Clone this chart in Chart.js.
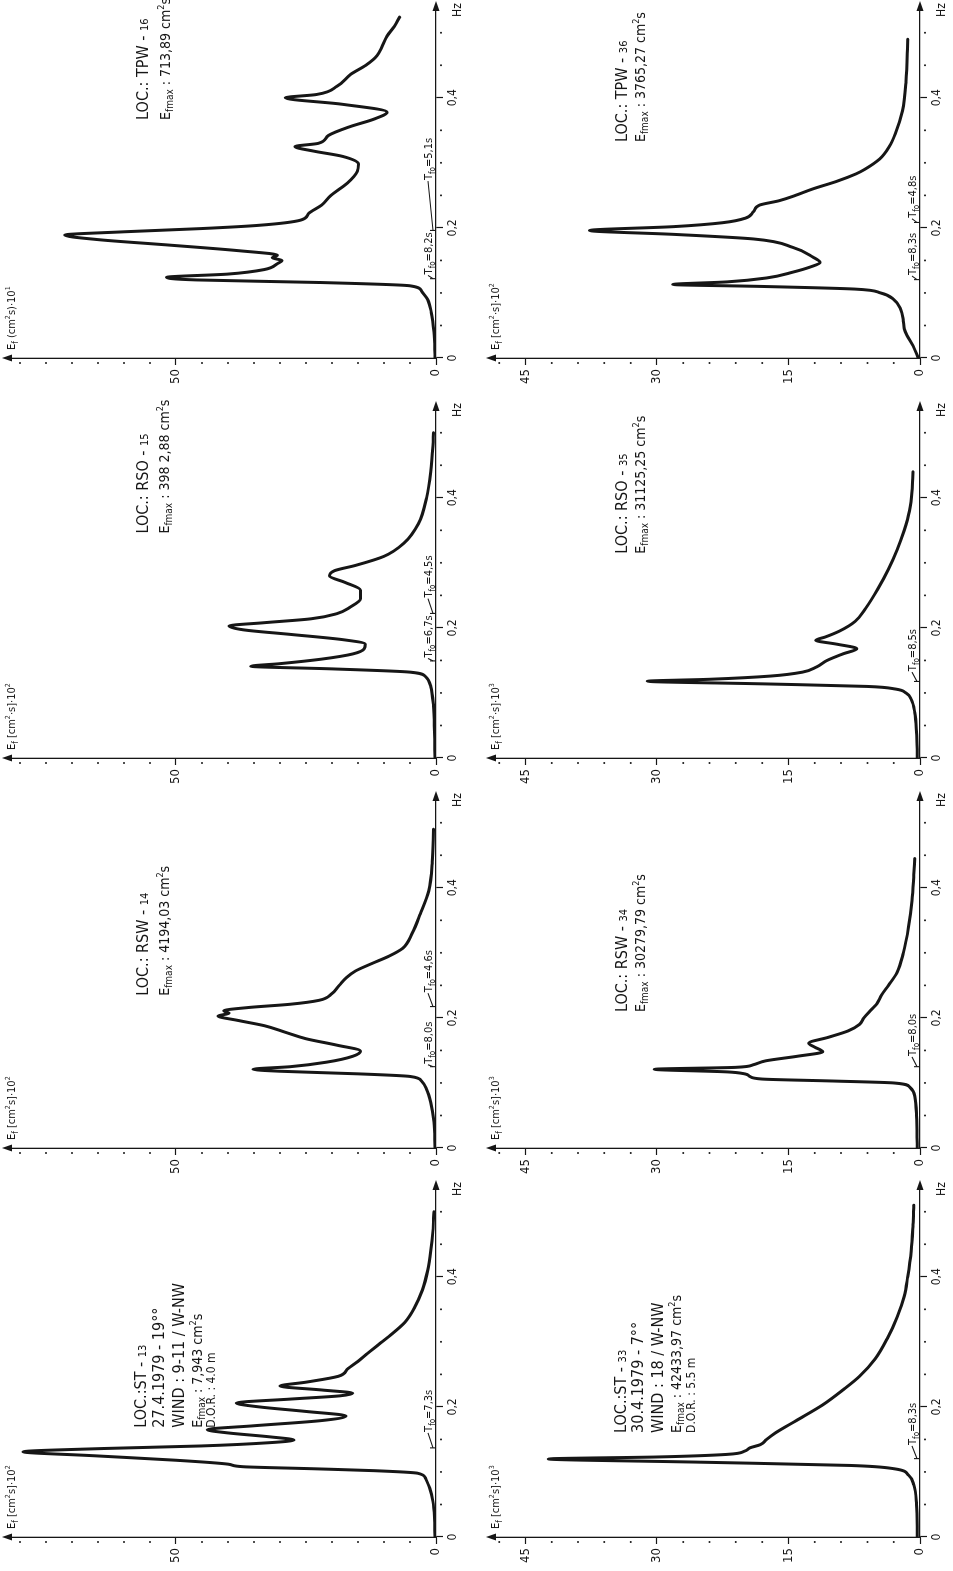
<!DOCTYPE html>
<html>
<head>
<meta charset="utf-8">
<script src="https://cdn.jsdelivr.net/npm/chart.js@4.4.0/dist/chart.umd.min.js"></script>
<style>
html, body { margin: 0; padding: 0; background: #fff; }
body { width: 953px; height: 1571px; overflow: hidden; position: relative; }
/* the sheet is drawn in landscape and turned a quarter to the left, like the scan */
#sheet { position: absolute; left: 0; top: 0; width: 1571px; height: 953px;
         transform-origin: 0 0; transform: translateY(1571px) rotate(-90deg); }
#sheet canvas { position: absolute; }
</style>
</head>
<body>
<div id="sheet"></div>
<script>
// ---- data (frequency in Hz, energy in axis units) ----
const freqST13 = [0, 0.03, 0.055, 0.075, 0.09, 0.098, 0.102, 0.105, 0.108, 0.112, 0.118, 0.125, 0.131, 0.136, 0.14, 0.145, 0.149, 0.154, 0.16, 0.165, 0.171, 0.179, 0.186, 0.193, 0.2, 0.206, 0.212, 0.217, 0.221, 0.226, 0.232, 0.238, 0.247, 0.259, 0.27, 0.282, 0.296, 0.31, 0.33, 0.353, 0.38, 0.41, 0.44, 0.47, 0.5];
const energyST13 = [0.2, 0.3, 0.6, 1.2, 2.0, 3.5, 12, 24, 37, 40, 50, 66, 79.4, 64, 45, 32, 27.3, 32, 40, 44, 35, 22, 17.3, 25, 34, 38.4, 28, 18.5, 16, 22, 30, 25, 18.8, 16.9, 15, 13.2, 11, 8.8, 6, 4.1, 2.6, 1.6, 1.0, 0.6, 0.4];

const freqRSW14 = [0, 0.04, 0.07, 0.09, 0.103, 0.11, 0.114, 0.118, 0.121, 0.125, 0.132, 0.141, 0.149, 0.158, 0.168, 0.178, 0.188, 0.196, 0.203, 0.207, 0.211, 0.216, 0.221, 0.227, 0.236, 0.25, 0.262, 0.272, 0.283, 0.295, 0.307, 0.33, 0.36, 0.395, 0.44, 0.49];
const energyRSW14 = [0.2, 0.4, 1.0, 1.8, 2.8, 5, 15, 30, 35.2, 28, 21, 16, 14.5, 19, 25, 29, 33, 38, 41.9, 39.8, 40.8, 36, 28, 22.5, 20.2, 18.6, 17.2, 15.5, 12.5, 9, 6.4, 4.6, 3.0, 1.4, 0.7, 0.5];

const freqRSO15 = [0, 0.04, 0.08, 0.11, 0.125, 0.132, 0.137, 0.141, 0.145, 0.152, 0.16, 0.168, 0.175, 0.182, 0.19, 0.197, 0.203, 0.208, 0.214, 0.222, 0.232, 0.245, 0.258, 0.27, 0.28, 0.288, 0.296, 0.31, 0.33, 0.36, 0.4, 0.44, 0.48, 0.5];
const energyRSO15 = [0.2, 0.3, 0.5, 1.0, 2.0, 5, 20, 35.6, 30, 22, 16, 13.8, 13.6, 18, 28, 37, 39.8, 33, 24, 19, 16.5, 14.5, 14.5, 17.5, 20.5, 19.5, 15.5, 10, 6.2, 3.4, 1.8, 1.0, 0.6, 0.5];

const freqTPW16 = [0, 0.04, 0.07, 0.09, 0.103, 0.111, 0.116, 0.12, 0.124, 0.129, 0.136, 0.145, 0.15, 0.154, 0.158, 0.165, 0.174, 0.182, 0.189, 0.194, 0.199, 0.204, 0.212, 0.222, 0.235, 0.25, 0.269, 0.287, 0.298, 0.31, 0.318, 0.325, 0.33, 0.342, 0.356, 0.367, 0.378, 0.39, 0.4, 0.405, 0.418, 0.436, 0.45, 0.465, 0.48, 0.495, 0.51, 0.524];
const energyTPW16 = [0.2, 0.4, 0.9, 1.6, 2.8, 5, 22, 46, 51.8, 40, 33, 30.5, 29.6, 31.5, 30.5, 38, 52, 65, 71.4, 60, 45, 34, 26, 24.5, 22, 20.2, 17, 15.1, 14.9, 18, 23.5, 27.1, 22.6, 20.7, 16.4, 12, 9.4, 18, 29, 23, 19, 16.4, 13.5, 11.3, 10.3, 9.4, 8, 7];

const freqST33 = [0, 0.05, 0.08, 0.095, 0.105, 0.11, 0.115, 0.12, 0.123, 0.127, 0.132, 0.137, 0.142, 0.15, 0.16, 0.179, 0.203, 0.227, 0.247, 0.274, 0.306, 0.338, 0.37, 0.4, 0.44, 0.48, 0.51];
const energyST33 = [0.3, 0.4, 0.7, 1.3, 3, 8, 25, 42.4, 30, 22, 20, 19.4, 18.2, 17.5, 16.5, 14.1, 11.1, 8.7, 6.9, 5.1, 3.7, 2.6, 1.8, 1.4, 1.0, 0.8, 0.7];

const freqRSW34 = [0, 0.05, 0.08, 0.094, 0.1, 0.103, 0.106, 0.11, 0.114, 0.117, 0.121, 0.124, 0.128, 0.134, 0.141, 0.148, 0.155, 0.161, 0.17, 0.18, 0.19, 0.2, 0.212, 0.222, 0.235, 0.25, 0.27, 0.3, 0.34, 0.38, 0.42, 0.445];
const energyRSW34 = [0.3, 0.4, 0.6, 1.2, 3, 10, 18, 19.4, 20, 22, 30.3, 21, 19, 17.6, 14, 11.1, 12, 12.7, 10.5, 8.2, 6.9, 6.4, 5.6, 4.9, 4.4, 3.6, 2.6, 1.9, 1.3, 0.9, 0.7, 0.6];

const freqRSO35 = [0, 0.04, 0.07, 0.09, 0.1, 0.106, 0.11, 0.114, 0.118, 0.121, 0.126, 0.132, 0.14, 0.15, 0.16, 0.168, 0.175, 0.181, 0.186, 0.195, 0.21, 0.23, 0.26, 0.29, 0.32, 0.35, 0.38, 0.41, 0.44];
const energyRSO35 = [0.3, 0.4, 0.6, 1.0, 1.6, 2.8, 6, 18, 31.1, 24, 17, 13.4, 11.8, 10.6, 8.8, 7.2, 9.5, 11.9, 10.8, 9.2, 7.4, 6.2, 4.8, 3.6, 2.6, 1.8, 1.2, 0.9, 0.8];

const freqTPW36 = [0, 0.019, 0.035, 0.045, 0.057, 0.075, 0.09, 0.1, 0.106, 0.11, 0.113, 0.117, 0.123, 0.132, 0.14, 0.147, 0.155, 0.17, 0.183, 0.19, 0.196, 0.202, 0.208, 0.215, 0.225, 0.235, 0.242, 0.25, 0.26, 0.272, 0.283, 0.29, 0.306, 0.325, 0.345, 0.38, 0.425, 0.49];
const energyTPW36 = [0.2, 0.8, 1.5, 1.8, 1.9, 2.2, 3.0, 4.5, 7.5, 18, 28.2, 22, 17.5, 14.5, 12.5, 11.4, 12.2, 14.5, 19, 28, 37.7, 28, 22.5, 19.9, 19, 18.3, 16, 14.2, 12.2, 9.4, 7.3, 6.3, 4.6, 3.5, 2.8, 2.0, 1.6, 1.4];

// tick labels
const freqTickLabels = [0, 0.2, 0.4];
const energyTicks27 = [0, 50];
const energyTicks30 = [0, 15, 30, 45];

// peak periods marked under each spectrum
const periodsST13 = ['7,3'];
const periodsRSW14 = ['8,0', '4,6'];
const periodsRSO15 = ['6,7', '4,5'];
const periodsTPW16 = ['8,2', '5,1'];
const periodsST33 = ['8,3'];
const periodsRSW34 = ['8,0'];
const periodsRSO35 = ['8,5'];
const periodsTPW36 = ['8,3', '4,8'];

// ---- geometry of the sheet (landscape, before the quarter turn) ----
const INK = '#161616';
const FONT = "'DejaVu Sans Condensed', 'Liberation Sans Narrow', 'DejaVu Sans', sans-serif";
const FMAX = 0.538;
const AXIS_LEN = 350;
const ROWS = { ST: 34, RSW: 423, RSO: 813, TPW: 1213 };
const COLS = {
  d27: { origin: 436, top: 9, max: 82.1, step: 5, major: 50, ticks: energyTicks27 },
  d30: { origin: 920, top: 493, max: 48.7, step: 3, major: 15, ticks: energyTicks30 }
};

const STY = {
  L: [16, 0], n: [11, 0], M: [14, 0], sub: [10, 3], sup: [9, -6], S: [12, 0],
  T: [11, 0], tsub: [8, 2.5], A: [11, 0], asub: [8, 3], asup: [7, -5]
};

function title(open, mid, exp) {
  return [['E', 'A'], ['f', 'asub'], [' ' + open + 'cm', 'A'], ['2', 'asup'], [mid, 'A'], [exp, 'asup']];
}
function emax(val) {
  return [['E', 'M'], ['fmax', 'sub'], [' : ' + val + ' cm', 'M'], ['2', 'sup'], ['s', 'M']];
}

const panels = [
  { row: 'ST', col: 'd27', f: freqST13, e: energyST13, periods: periodsST13, tAt: [0.16],
    title: title('[', 's]·10', '2'), textF: 0.168, textE: [56.9, 53.4, 49.6, 46.0, 43.3],
    lines: [[['LOC.:ST - ', 'L'], ['13', 'n']], [['27.4.1979 - 19°°', 'L']], [['WIND : 9-11 / W-NW', 'L']],
            emax('7,943'), [['D.O.R. : 4.0 m', 'S']]] },
  { row: 'RSW', col: 'd27', f: freqRSW14, e: energyRSW14, periods: periodsRSW14, tAt: [0.128, 0.238],
    title: title('[', 's]·10', '2'), textF: 0.234, textE: [56.5, 52.4],
    lines: [[['LOC.: RSW - ', 'L'], ['14', 'n']], emax('4194,03')] },
  { row: 'RSO', col: 'd27', f: freqRSO15, e: energyRSO15, periods: periodsRSO15, tAt: [0.153, 0.245],
    title: title('[', '·s]·10', '2'), textF: 0.345, textE: [56.5, 52.4],
    lines: [[['LOC.: RSO - ', 'L'], ['15', 'n']], emax('398 2,88')] },
  { row: 'TPW', col: 'd27', f: freqTPW16, e: energyTPW16, periods: periodsTPW16, tAt: [0.127, 0.272],
    title: title('(', 's)·10', '1'), textF: 0.366, textE: [56.5, 52.1],
    lines: [[['LOC.: TPW - ', 'L'], ['16', 'n']], emax('713,89')] },
  { row: 'ST', col: 'd30', f: freqST33, e: energyST33, periods: periodsST33, tAt: [0.14],
    title: title('[', 's]·10', '3'), textF: 0.16, textE: [34.2, 32.2, 30.0, 27.8, 26.2],
    lines: [[['LOC.:ST - ', 'L'], ['33', 'n']], [['30.4.1979 - 7°°', 'L']], [['WIND : 18 / W-NW', 'L']],
            emax('42433,97'), [['D.O.R. : 5.5 m', 'S']]] },
  { row: 'RSW', col: 'd30', f: freqRSW34, e: energyRSW34, periods: periodsRSW34, tAt: [0.14],
    title: title('[', 's]·10', '3'), textF: 0.209, textE: [34.1, 31.9],
    lines: [[['LOC.: RSW - ', 'L'], ['34', 'n']], emax('30279,79')] },
  { row: 'RSO', col: 'd30', f: freqRSO35, e: energyRSO35, periods: periodsRSO35, tAt: [0.132],
    title: title('[', '·s]·10', '3'), textF: 0.314, textE: [34.1, 31.9],
    lines: [[['LOC.: RSO - ', 'L'], ['35', 'n']], emax('31125,25')] },
  { row: 'TPW', col: 'd30', f: freqTPW36, e: energyTPW36, periods: periodsTPW36, tAt: [0.126, 0.214],
    title: title('[', '·s]·10', '2'), textF: 0.332, textE: [34.1, 31.9],
    lines: [[['LOC.: TPW - ', 'L'], ['36', 'n']], emax('3765,27')] }
];

// draw a run of text pieces of different sizes one after the other
function rich(ctx, x, y, parts) {
  let cx = x;
  for (const [t, s] of parts) {
    const [size, dy] = STY[s];
    ctx.font = size + 'px ' + FONT;
    ctx.fillText(t, cx, y + dy);
    cx += ctx.measureText(t).width;
  }
  return cx;
}

function dot(ctx, x, y) {
  ctx.beginPath();
  ctx.arc(x, y, 1, 0, Math.PI * 2);
  ctx.fill();
}

function line(ctx, x1, y1, x2, y2) {
  ctx.beginPath();
  ctx.moveTo(x1, y1);
  ctx.lineTo(x2, y2);
  ctx.stroke();
}

function isOn(list, v) {
  return list.some(t => Math.abs(t - v) < 1e-6);
}

// arrows, minor dots, axis names and the notes written on each panel
function drawDecor(chart, p) {
  const ctx = chart.ctx, xs = chart.scales.x, ys = chart.scales.y;
  const col = COLS[p.col];
  const x0 = xs.getPixelForValue(0), y0 = ys.getPixelForValue(0);
  ctx.save();
  ctx.fillStyle = INK;
  ctx.strokeStyle = INK;
  ctx.lineWidth = 1.1;
  ctx.textAlign = 'left';
  ctx.textBaseline = 'alphabetic';

  for (let i = 1; i * 0.05 < FMAX; i++) {
    if (i % 4 === 0) continue;
    dot(ctx, xs.getPixelForValue(i * 0.05), y0 + 5);
  }
  for (let v = col.step; v < col.max; v += col.step) {
    if (v % col.major === 0) continue;
    dot(ctx, x0 - 5, ys.getPixelForValue(v));
  }

  // arrow heads
  ctx.beginPath();
  ctx.moveTo(xs.right + 7, y0);
  ctx.lineTo(xs.right - 3, y0 - 3.5);
  ctx.lineTo(xs.right - 3, y0 + 3.5);
  ctx.closePath();
  ctx.fill();
  ctx.beginPath();
  ctx.moveTo(x0, ys.top - 7);
  ctx.lineTo(x0 - 3.5, ys.top + 3);
  ctx.lineTo(x0 + 3.5, ys.top + 3);
  ctx.closePath();
  ctx.fill();

  ctx.font = '12px ' + FONT;
  ctx.textAlign = 'center';
  ctx.fillText('Hz', xs.right - 2, y0 + 25);
  ctx.textAlign = 'left';

  rich(ctx, x0 + 8, ys.top + 6, p.title);

  // T_fo marks on the frequency axis
  p.periods.forEach((txt, i) => {
    const xt = xs.getPixelForValue(1 / parseFloat(txt.replace(',', '.')));
    const xa = xs.getPixelForValue(p.tAt[i]);
    line(ctx, xt, y0, xt, y0 - 6);
    line(ctx, xt, y0 - 3, xa, y0 - 8);
    rich(ctx, xa + 1, y0 - 4, [['T', 'T'], ['fo', 'tsub'], ['=' + txt + 's', 'T']]);
  });

  // notes
  const tx = xs.getPixelForValue(p.textF);
  p.lines.forEach((ln, i) => {
    const size = STY[ln[0][1]][0];
    rich(ctx, tx, ys.getPixelForValue(p.textE[i]) + size * 0.36, ln);
  });
  ctx.restore();
}

const sheet = document.getElementById('sheet');

panels.forEach(p => {
  const col = COLS[p.col];
  const canvas = document.createElement('canvas');
  const padTop = 22, yWidth = 44, xHeight = 34, padRight = 30;
  canvas.width = yWidth + AXIS_LEN + padRight;
  canvas.height = padTop + (col.origin - col.top) + xHeight;
  canvas.style.left = (ROWS[p.row] - yWidth) + 'px';
  canvas.style.top = (col.top - padTop) + 'px';
  sheet.appendChild(canvas);

  new Chart(canvas, {
    type: 'line',
    data: {
      datasets: [{
        data: p.f.map((v, i) => ({ x: v, y: p.e[i] })),
        borderColor: INK,
        borderWidth: 3,
        pointRadius: 0,
        fill: false,
        cubicInterpolationMode: 'monotone',
        borderCapStyle: 'round',
        borderJoinStyle: 'round'
      }]
    },
    options: {
      responsive: false,
      animation: false,
      devicePixelRatio: 1,
      layout: { padding: { top: padTop, right: padRight, left: 0, bottom: 0 } },
      plugins: { legend: { display: false }, tooltip: { enabled: false } },
      scales: {
        x: {
          type: 'linear', min: 0, max: FMAX,
          afterFit: s => { s.height = xHeight; },
          border: { color: INK, width: 1.3 },
          grid: {
            drawOnChartArea: false, tickLength: 7, tickWidth: 1.2,
            tickColor: c => isOn(freqTickLabels, c.tick.value) ? INK : 'rgba(0,0,0,0)'
          },
          ticks: {
            stepSize: 0.05, autoSkip: false, maxRotation: 0, includeBounds: false,
            color: INK, padding: 3, font: { family: FONT, size: 12 },
            callback: v => isOn(freqTickLabels, v) ? (v === 0 ? '0' : v.toFixed(1).replace('.', ',')) : ''
          }
        },
        y: {
          type: 'linear', min: 0, max: col.max,
          afterFit: s => { s.width = yWidth; },
          border: { color: INK, width: 1.3 },
          grid: {
            drawOnChartArea: false, tickLength: 7, tickWidth: 1.2,
            tickColor: c => isOn(col.ticks, c.tick.value) ? INK : 'rgba(0,0,0,0)'
          },
          ticks: {
            stepSize: col.step, autoSkip: false, includeBounds: false,
            color: INK, padding: 4, font: { family: FONT, size: 13 },
            callback: v => isOn(col.ticks, v) ? String(v) : ''
          }
        }
      }
    },
    plugins: [{ id: 'decor', afterDraw: c => drawDecor(c, p) }]
  });
});
</script>
</body>
</html>
